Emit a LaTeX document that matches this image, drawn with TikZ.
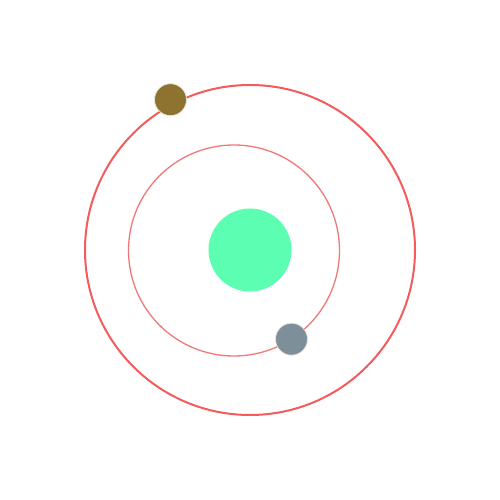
\documentclass[tikz,border=0pt]{standalone}
\definecolor{orbitA}{HTML}{F25C5C}
\definecolor{orbitB}{HTML}{F07878}
\definecolor{sunc}{HTML}{5CFFB2}
\definecolor{brownp}{HTML}{8E7330}
\definecolor{grayp}{HTML}{7D8F99}
\definecolor{rimc}{HTML}{E8E4D8}
\tikzset{
  orbitouter/.style={draw=orbitA, line width=2pt},
  orbitinner/.style={draw=orbitB, line width=1.3pt},
  planet/.style={circle, draw=rimc, line width=0.8pt, inner sep=0pt, minimum size=32pt},
}
\begin{document}
\begin{tikzpicture}[x=1pt,y=1pt]
\useasboundingbox[fill=white] (0,0) rectangle (500,500);
\draw[orbitouter] (250,250) circle (165);
\draw[orbitinner] (234,249.5) circle (105.5);
\node[circle, fill=sunc, inner sep=0pt, minimum size=83pt] (sun) at (250,250) {};
\node[planet, fill=brownp] (p1) at (170.5,400.3) {};
\node[planet, fill=grayp] (p2) at (291.5,160.8) {};
\end{tikzpicture}
\end{document}
